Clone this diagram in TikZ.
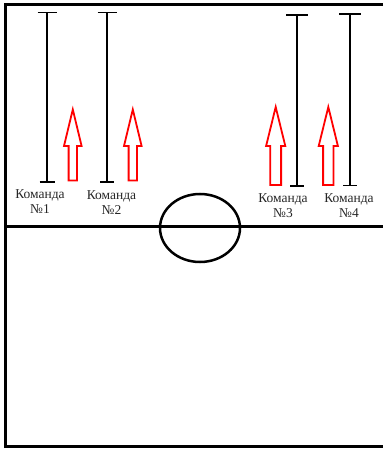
\documentclass[tikz,border=0pt]{standalone}
\usepackage{fontspec}
\setmainfont{Liberation Serif}
\newcommand\fieldpost[5]{% x, top, bottom, top half-width, bottom half-width
  \draw[post] (#1-#4,#2) -- (#1+#4,#2) (#1,#2) -- (#1,#3) (#1-#5,#3) -- (#1+#5,#3);}
\newcommand\hollowarrow[7]{% tip x, tip y, head base y, head half-width, shaft half-width, bottom y
  \draw[blockarrow] (#1,#2) -- (#1+#4,#3) -- (#1+#5,#3) -- (#1+#5,#6) -- (#1-#5,#6) -- (#1-#5,#3) -- (#1-#4,#3) -- cycle;}
\begin{document}
\begin{tikzpicture}[x=1pt,y=-1pt,
  field/.style={line width=3pt},
  post/.style={line width=1.5pt},
  blockarrow/.style={draw=red, line width=1.8pt, line join=miter},
  lbl/.style={font=\fontsize{13.5}{15}\selectfont, align=center, inner sep=0pt, text=black!85}]
\useasboundingbox (0,0) rectangle (383,449);
% field
\draw[field] (383,5) -- (5.5,5) -- (5.5,446) -- (383,446);
\draw[field] (5.5,226) -- (383,226);
\draw[line width=2.5pt] (200,228) ellipse [x radius=40, y radius=34];
% posts
\fieldpost{47}{12.5}{182}{9.5}{7.5}
\fieldpost{107}{12.5}{182}{9.5}{7}
\fieldpost{297}{15}{186}{11}{7}
\fieldpost{350}{14}{185.5}{11}{7}
% arrows
\hollowarrow{72.8}{109.5}{146}{8.8}{4.2}{180.5}{}
\hollowarrow{132.8}{109.5}{146}{8.8}{4.2}{180.5}{}
\hollowarrow{275.7}{107}{146}{9.6}{5.4}{185}{}
\hollowarrow{328.3}{107}{146}{9.6}{5.2}{185}{}
% labels
\node[lbl] (t1) at (40,201.5) {Команда\\№1};
\node[lbl] (t2) at (111.5,202.5) {Команда\\№2};
\node[lbl] (t3) at (283,206) {Команда\\№3};
\node[lbl] (t4) at (349,206) {Команда\\№4};
\end{tikzpicture}
\end{document}
